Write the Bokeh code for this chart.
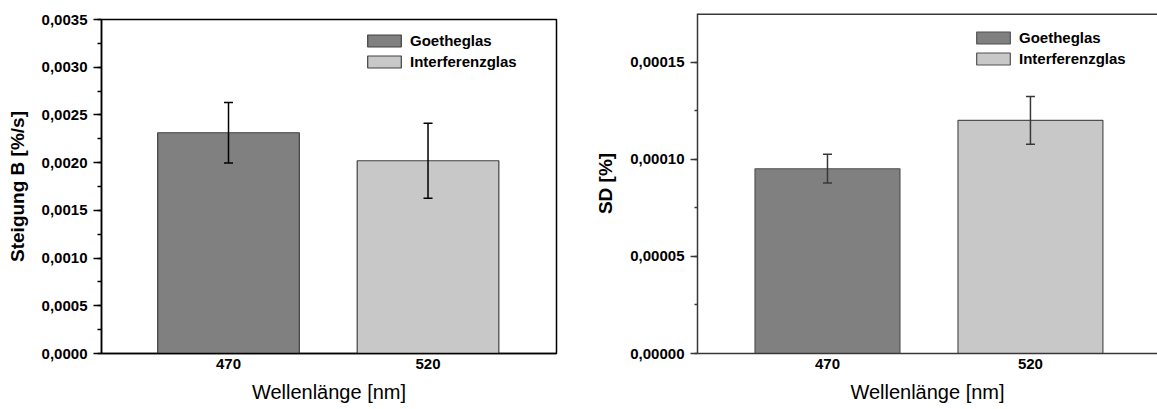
from bokeh.plotting import figure
from bokeh.layouts import row
from bokeh.models import (ColumnDataSource, Whisker, TeeHead, FixedTicker, Range1d, Span,
                          SingleIntervalTicker, CustomJSTickFormatter, LinearAxis)
from bokeh.embed import file_html
from bokeh.resources import INLINE

# ---- data ----
categories = ["470", "520"]
series = ["Goetheglas", "Interferenzglas"]
colors = ["#808080", "#c8c8c8"]

slope_values = [0.002313, 0.002020]
slope_errors = [0.000318, 0.000392]

sd_values = [0.0000951, 0.0001200]
sd_errors = [0.0000074, 0.0000123]

FONT = "Liberation Sans"
positions = list(range(1, len(categories) + 1))


def make_chart(width, height, borders, x_range, y_end, y_interval, y_digits, values, errors,
               ylabel, bar_width, axis_color, bar_line, tick_out, minor_out, legend_loc, top_only):
    left, right, top, bottom = borders
    p = figure(width=width, height=height, output_backend="svg", toolbar_location=None,
               x_range=Range1d(*x_range), y_range=Range1d(0, y_end),
               min_border_left=left, min_border_right=right,
               min_border_top=top, min_border_bottom=bottom,
               x_axis_type=None, y_axis_type=None)
    try:
        p.frame_align = False
    except Exception:
        pass
    p.xgrid.visible = False
    p.ygrid.visible = False
    p.background_fill_color = "white"
    p.border_fill_color = "white"
    if top_only:
        p.outline_line_color = None
        p.add_layout(Span(location=y_end, dimension="width", line_color=axis_color,
                          line_width=3))
    else:
        p.outline_line_color = axis_color
        p.outline_line_width = 1.5

    for i, name in enumerate(series):
        src = ColumnDataSource(dict(x=[positions[i]], top=[values[i]],
                                    upper=[values[i] + errors[i]],
                                    lower=[values[i] - errors[i]]))
        p.vbar(x="x", top="top", width=bar_width, source=src, fill_color=colors[i],
               line_color=bar_line, line_width=1.2, legend_label=name)
        p.add_layout(Whisker(source=src, base="x", upper="upper", lower="lower",
                             level="overlay",
                             line_color=axis_color, line_width=1.5,
                             upper_head=TeeHead(size=9, line_color=axis_color, line_width=1.5),
                             lower_head=TeeHead(size=9, line_color=axis_color, line_width=1.5)))

    # y axis
    yax = LinearAxis(ticker=SingleIntervalTicker(interval=y_interval, num_minor_ticks=2),
                     formatter=CustomJSTickFormatter(
                         code="return tick.toFixed(%d).replace('.', ',');" % y_digits))
    yax.axis_label = ylabel
    yax.axis_label_text_font = FONT
    yax.axis_label_text_font_style = "bold"
    yax.axis_label_text_font_size = "19px"
    yax.axis_label_text_color = "black"
    yax.axis_label_standoff = 11
    yax.major_label_text_font = FONT
    yax.major_label_text_font_style = "bold"
    yax.major_label_text_font_size = "15px"
    yax.major_label_text_color = "black"
    yax.major_label_standoff = 6
    yax.major_tick_out = tick_out
    yax.major_tick_in = 0
    yax.minor_tick_out = minor_out
    yax.minor_tick_in = 0
    for a in ("axis_line", "major_tick_line", "minor_tick_line"):
        setattr(yax, a + "_color", axis_color)
        setattr(yax, a + "_width", 1.5)
    p.add_layout(yax, "left")

    # x axis
    xax = LinearAxis(ticker=FixedTicker(ticks=positions))
    xax.major_label_overrides = {pos: cat for pos, cat in zip(positions, categories)}
    xax.axis_label = "Wellenlänge [nm]"
    xax.axis_label_text_font = FONT
    xax.axis_label_text_font_style = "normal"
    xax.axis_label_text_font_size = "20px"
    xax.axis_label_text_color = "black"
    xax.axis_label_standoff = 9
    xax.major_label_text_font = FONT
    xax.major_label_text_font_style = "bold"
    xax.major_label_text_font_size = "15px"
    xax.major_label_text_color = "black"
    xax.major_label_standoff = 5
    xax.major_tick_out = 0
    xax.major_tick_in = 0
    xax.minor_tick_line_color = None
    xax.axis_line_color = axis_color
    xax.axis_line_width = 1.5
    p.add_layout(xax, "below")

    lg = p.legend[0]
    lg.location = legend_loc
    lg.padding = 0
    lg.margin = 0
    lg.spacing = 4
    lg.glyph_width = 42
    lg.glyph_height = 15
    lg.label_height = 15
    lg.label_standoff = 5
    lg.border_line_color = None
    lg.background_fill_alpha = 0
    lg.label_text_font = FONT
    lg.label_text_font_style = "bold"
    lg.label_text_font_size = "15px"
    lg.label_text_color = "black"
    return p


p1 = make_chart(580, 409, (101, 24, 19, 56), (0.3634, 2.644), 0.0035, 0.0005, 4,
                slope_values, slope_errors, "Steigung B [%/s]", 0.71, "black", "#404040",
                8, 4, (262, 283), False)
p2 = make_chart(577, 409, (117, 0, 13, 56), (0.3596, 2.626), 0.000175, 0.00005, 5,
                sd_values, sd_errors, "SD [%]", 0.714, "#383838", "#505050",
                7, 3, (275, 286), True)

layout = row(p1, p2)
open("out.html", "w").write(file_html(layout, INLINE))
